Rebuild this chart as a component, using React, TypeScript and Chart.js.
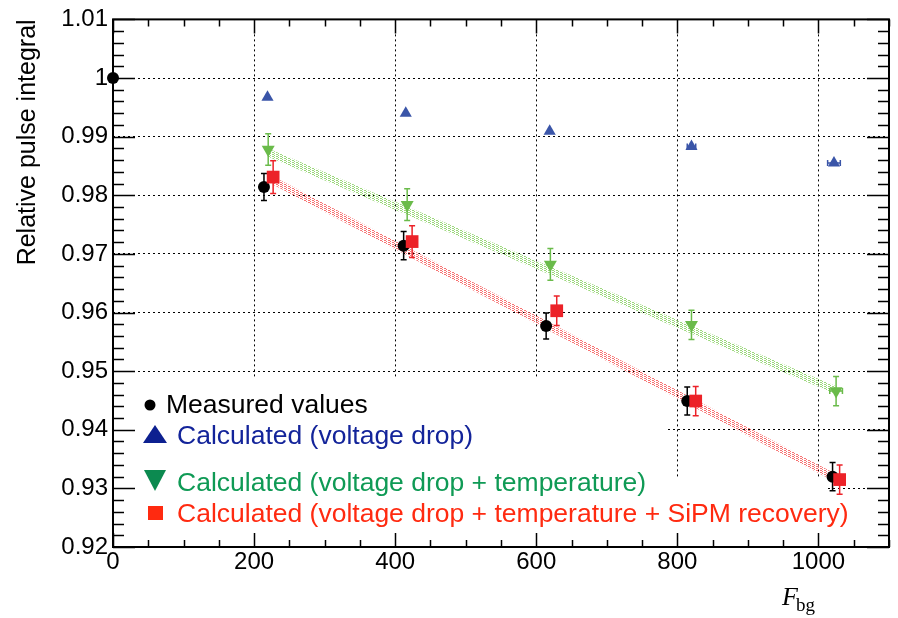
import React, { useEffect, useRef } from 'react';
import { Chart, registerables } from 'chart.js';

Chart.register(...registerables);

// ---------- data ----------
const xMeasured = [0, 214, 412, 614, 814, 1020];
const yMeasured = [1.0, 0.9814, 0.9714, 0.9577, 0.9449, 0.932];
const yErrMeasured = [0, 0.0023, 0.0024, 0.0022, 0.0024, 0.0024];

const xVoltage = [219, 415, 619, 820, 1022];
const yVoltage = [0.9967, 0.994, 0.9909, 0.9883, 0.9855];
const xErrVoltage = [0, 0, 0, 6, 9];

const xTemp = [220, 417, 620, 820, 1025];
const yTemp = [0.9878, 0.9784, 0.9682, 0.9579, 0.9466];
const yErrTemp = [0.0027, 0.0027, 0.0027, 0.0025, 0.0025];
const xErrTemp = [0, 0, 0, 0, 9];

const xSipm = [227, 424, 629, 826, 1030];
const ySipm = [0.9831, 0.9721, 0.9603, 0.9449, 0.9315];
const yErrSipm = [0.0028, 0.0027, 0.0025, 0.0025, 0.0025];

const tempBandX = [219, 1026];
const tempBandY = [0.9873, 0.9467];
const sipmBandX = [226, 1030];
const sipmBandY = [0.9826, 0.9314];
const bandHalfWidth = 0.0007;

const xTickLabels = [0, 200, 400, 600, 800, 1000];
const legendLabels = [
  'Measured values',
  'Calculated (voltage drop)',
  'Calculated (voltage drop + temperature)',
  'Calculated (voltage drop + temperature + SiPM recovery)',
];

const FONT = '"Liberation Sans", Arial, Helvetica, sans-serif';
const SERIF = '"Liberation Serif", "Times New Roman", serif';

const pts = (xs: number[], ys: number[]) => xs.map((x, i) => ({ x, y: ys[i] }));

const errorBarPlugin = {
  id: 'errbars',
  beforeDatasetDraw(chart: any, args: any) {
    const ds = chart.data.datasets[args.index];
    if (!ds.yErr && !ds.xErr) return;
    const ctx = chart.ctx;
    const xs = chart.scales.x;
    const ys = chart.scales.y;
    ctx.save();
    ctx.strokeStyle = ds.errColor;
    ctx.lineWidth = 1.5;
    ds.data.forEach((p: any, i: number) => {
      const px = xs.getPixelForValue(p.x);
      const py = ys.getPixelForValue(p.y);
      const ye = ds.yErr ? ds.yErr[i] : 0;
      if (ye) {
        const y1 = ys.getPixelForValue(p.y + ye);
        const y2 = ys.getPixelForValue(p.y - ye);
        ctx.beginPath();
        ctx.moveTo(px, y1); ctx.lineTo(px, y2);
        ctx.moveTo(px - 3, y1); ctx.lineTo(px + 3, y1);
        ctx.moveTo(px - 3, y2); ctx.lineTo(px + 3, y2);
        ctx.stroke();
      }
      const xe = ds.xErr ? ds.xErr[i] : 0;
      if (xe) {
        const x1 = xs.getPixelForValue(p.x - xe);
        const x2 = xs.getPixelForValue(p.x + xe);
        ctx.beginPath();
        ctx.moveTo(x1, py); ctx.lineTo(x2, py);
        ctx.moveTo(x1, py - 3); ctx.lineTo(x1, py + 3);
        ctx.moveTo(x2, py - 3); ctx.lineTo(x2, py + 3);
        ctx.stroke();
      }
    });
    ctx.restore();
  },
};

const decorPlugin = {
  id: 'decor',
  beforeDatasetsDraw(chart: any) {
    const { ctx, chartArea: a } = chart;
    ctx.save();
    ctx.fillStyle = '#fff';
    ctx.fillRect(a.left + 1, 378, 665 - a.left, a.bottom - 378);
    ctx.fillRect(a.left + 1, 479, 825 - a.left, a.bottom - 479);
    ctx.restore();
  },
  afterDraw(chart: any) {
    const { ctx, chartArea: a } = chart;
    const xs = chart.scales.x;
    const ys = chart.scales.y;
    ctx.save();
    // ticks
    ctx.strokeStyle = '#000';
    ctx.lineWidth = 1.5;
    ctx.beginPath();
    for (let k = 0; k <= 45; k++) {
      const v = 0.92 + k * 0.002;
      const py = Math.round(ys.getPixelForValue(v)) + 0.5;
      const len = k % 5 === 0 ? 22 : 11;
      ctx.moveTo(a.left, py); ctx.lineTo(a.left + len, py);
      ctx.moveTo(a.right, py); ctx.lineTo(a.right - len, py);
    }
    for (let k = 0; k <= 22; k++) {
      const v = k * 50;
      const px = Math.round(xs.getPixelForValue(v)) + 0.5;
      const len = k % 4 === 0 ? 14 : 7;
      ctx.moveTo(px, a.bottom); ctx.lineTo(px, a.bottom - len);
      ctx.moveTo(px, a.top); ctx.lineTo(px, a.top + len);
    }
    ctx.stroke();
    // frame
    ctx.lineWidth = 2;
    ctx.strokeRect(a.left, a.top, a.right - a.left, a.bottom - a.top);

    // y title
    ctx.save();
    ctx.translate(35, a.top);
    ctx.rotate(-Math.PI / 2);
    ctx.font = `25px ${FONT}`;
    ctx.fillStyle = '#000';
    ctx.textAlign = 'right';
    ctx.textBaseline = 'alphabetic';
    ctx.fillText('Relative pulse integral', 0, 0);
    ctx.restore();

    // x title
    ctx.fillStyle = '#000';
    ctx.textBaseline = 'alphabetic';
    ctx.textAlign = 'left';
    ctx.font = `italic 26px ${SERIF}`;
    ctx.fillText('F', 782, 605);
    ctx.font = `19px ${SERIF}`;
    ctx.fillText('bg', 796, 611);

    // legend
    ctx.font = `26.5px ${FONT}`;
    const colors = ['#000000', '#13249a', '#0f9a55', '#ff2a10'];
    const baselines = [413, 444, 491, 522];
    const textX = [166, 177, 177, 177];
    legendLabels.forEach((t, i) => {
      ctx.fillStyle = colors[i];
      ctx.fillText(t, textX[i], baselines[i]);
    });
    // legend markers
    ctx.fillStyle = '#000';
    ctx.beginPath(); ctx.arc(150, 405, 5.5, 0, Math.PI * 2); ctx.fill();
    ctx.fillStyle = '#0d2090';
    ctx.beginPath(); ctx.moveTo(155, 425); ctx.lineTo(167, 443); ctx.lineTo(143, 443); ctx.closePath(); ctx.fill();
    ctx.fillStyle = '#0c8a50';
    ctx.beginPath(); ctx.moveTo(144, 470); ctx.lineTo(166, 470); ctx.lineTo(155, 491); ctx.closePath(); ctx.fill();
    ctx.fillStyle = '#ff2a10';
    ctx.fillRect(148, 506, 15, 14);
    ctx.restore();
  },
};

export default function App() {
  const ref = useRef<HTMLCanvasElement>(null);
  useEffect(() => {
    const canvas = ref.current!;
    const ctx = canvas.getContext('2d')!;
    const makePattern = (color: string) => {
      const c = document.createElement('canvas');
      c.width = 4; c.height = 2;
      const g = c.getContext('2d')!;
      g.fillStyle = color;
      g.fillRect(0, 0, 1, 1);
      g.fillRect(2, 1, 1, 1);
      g.fillRect(1, 0, 1, 1);
      return ctx.createPattern(c, 'repeat');
    };
    const greenPat = makePattern('rgba(130,205,90,0.8)');
    const redPat = makePattern('rgba(245,80,80,0.8)');

    const band = (xs: number[], ys: number[], sign: number) => xs.map((x, i) => ({ x, y: ys[i] + sign * bandHalfWidth }));

    const chart = new Chart(canvas, {
      type: 'scatter',
      data: {
        datasets: [
          { type: 'line', data: band(tempBandX, tempBandY, 1), showLine: true, borderWidth: 0, pointRadius: 0, fill: false, order: 10 } as any,
          { type: 'line', data: band(tempBandX, tempBandY, -1), showLine: true, borderWidth: 0, pointRadius: 0, fill: '-1', backgroundColor: greenPat, order: 9 } as any,
          { type: 'line', data: band(sipmBandX, sipmBandY, 1), showLine: true, borderWidth: 0, pointRadius: 0, fill: false, order: 8 } as any,
          { type: 'line', data: band(sipmBandX, sipmBandY, -1), showLine: true, borderWidth: 0, pointRadius: 0, fill: '-1', backgroundColor: redPat, order: 7 } as any,
          {
            label: legendLabels[1], data: pts(xVoltage, yVoltage), pointStyle: 'triangle', pointRadius: 7,
            backgroundColor: '#3a55a8', borderColor: '#3a55a8', borderWidth: 0, xErr: xErrVoltage, errColor: '#3a55a8', order: 4,
          } as any,
          {
            label: legendLabels[2], data: pts(xTemp, yTemp), pointStyle: 'triangle', rotation: 180, pointRadius: 7.5,
            backgroundColor: '#6abb4a', borderColor: '#6abb4a', borderWidth: 0, yErr: yErrTemp, xErr: xErrTemp, errColor: '#6abb4a', order: 3,
          } as any,
          {
            label: legendLabels[0], data: pts(xMeasured, yMeasured), pointStyle: 'circle', pointRadius: 6,
            backgroundColor: '#000', borderColor: '#000', borderWidth: 0, yErr: yErrMeasured, errColor: '#000', order: 2,
          } as any,
          {
            label: legendLabels[3], data: pts(xSipm, ySipm), pointStyle: 'rect', pointRadius: 9,
            backgroundColor: '#ec2228', borderColor: '#ec2228', borderWidth: 0, yErr: yErrSipm, errColor: '#ec2228', order: 1,
          } as any,
        ],
      },
      options: {
        animation: false,
        responsive: false,
        devicePixelRatio: 1,
        clip: false as any,
        layout: { padding: { top: 15, right: 5, left: 0, bottom: 0 } },
        plugins: { legend: { display: false }, tooltip: { enabled: false } },
        elements: { line: { tension: 0 } },
        scales: {
          x: {
            type: 'linear', min: 0, max: 1100,
            afterFit: (s: any) => { s.height = 71; },
            grid: { display: true, drawTicks: false, color: '#000', lineWidth: 1 },
            border: { display: false, dash: [2, 3] },
            ticks: {
              stepSize: 200, includeBounds: false, padding: 1, color: '#000',
              font: { family: FONT, size: 24 },
              callback: (v: any) => (xTickLabels.includes(Number(v)) ? String(v) : ''),
              maxRotation: 0, autoSkip: false,
            },
          },
          y: {
            type: 'linear', min: 0.92, max: 1.01,
            afterFit: (s: any) => { s.width = 113; },
            grid: { display: true, drawTicks: false, color: '#000', lineWidth: 1 },
            border: { display: false, dash: [2, 3] },
            ticks: {
              stepSize: 0.01, padding: 5, color: '#000',
              font: { family: FONT, size: 24 },
              callback: (v: any) => String(parseFloat(Number(v).toFixed(2))),
              autoSkip: false,
            },
          },
        },
      },
      plugins: [errorBarPlugin, decorPlugin],
    } as any);
    return () => chart.destroy();
  }, []);
  return (
    <div style={{ position: 'fixed', left: 0, top: 0, width: 898, height: 618, background: '#fff' }}>
      <canvas ref={ref} width={898} height={618} style={{ display: 'block' }} />
    </div>
  );
}
